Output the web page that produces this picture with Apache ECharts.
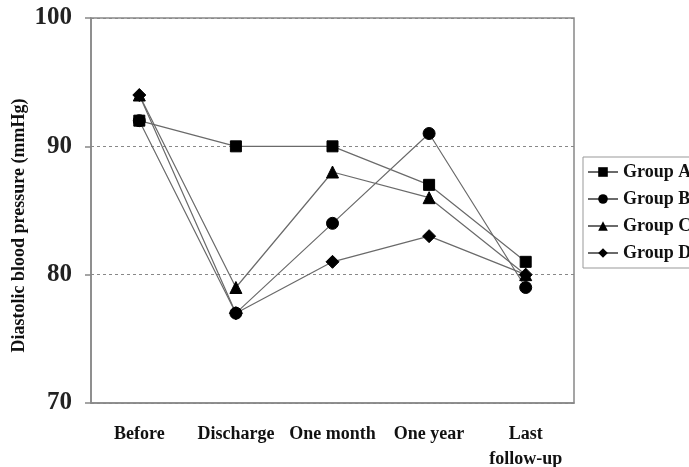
<!DOCTYPE html>
<html>
<head>
<meta charset="utf-8">
<script src="https://cdn.jsdelivr.net/npm/echarts@6/dist/echarts.min.js"></script>
<style>html,body{margin:0;padding:0;background:#fff;}#c{width:689px;height:467px;}</style>
</head>
<body>
<div id="c"></div>
<script>
const categories = ['Before', 'Discharge', 'One month', 'One year', 'Last\nfollow-up'];
const groupA = [92, 90, 90, 87, 81];
const groupB = [92, 77, 84, 91, 79];
const groupC = [94, 79, 88, 86, 80];
const groupD = [94, 77, 81, 83, 80];
const yTicks = [70, 80, 90, 100];

const font = '"Liberation Serif", "Times New Roman", serif';
const chart = echarts.init(document.getElementById('c'));

function mk(name, data, symbol, size) {
  return {
    name: name, type: 'line', data: data,
    symbol: symbol, symbolSize: size,
    lineStyle: { color: '#6a6a6a', width: 1.2 },
    itemStyle: { color: '#000', borderColor: '#000' },
    emphasis: { disabled: true },
    animation: false
  };
}

chart.setOption({
  backgroundColor: '#fff',
  animation: false,
  grid: { left: 91, right: 115, top: 18, bottom: 64, show: true, borderColor: '#888', borderWidth: 1.5, backgroundColor: '#fff', outerBoundsMode: 'none', containLabel: false },
  legend: {
    orient: 'vertical', left: 583, top: 157,
    itemWidth: 30, itemHeight: 12, itemGap: 9,
    padding: [6, 10, 6, 4],
    borderColor: '#999', borderWidth: 1,
    textStyle: { fontFamily: font, fontWeight: 'bold', fontSize: 18, color: '#111' },
    data: ['Group A', 'Group B', 'Group C', 'Group D']
  },
  xAxis: {
    type: 'category', data: categories, boundaryGap: true,
    axisLine: { lineStyle: { color: '#888', width: 1.5 } },
    axisTick: { show: false },
    axisLabel: { fontFamily: font, fontWeight: 'bold', fontSize: 18, color: '#111', margin: 19, lineHeight: 25, interval: 0 }
  },
  yAxis: {
    type: 'value', min: 70, max: 100, interval: 10,
    name: 'Diastolic blood pressure (mmHg)', nameLocation: 'middle', nameGap: 63, nameMoveOverlap: false,
    nameTextStyle: { fontFamily: font, fontWeight: 'bold', fontSize: 18, color: '#111', padding: [0, 30, 0, 0] },
    axisLine: { show: true, lineStyle: { color: '#888', width: 1.5 } },
    axisTick: { show: true, inside: false, length: 6, lineStyle: { color: '#888', width: 1.5 } },
    axisLabel: { fontFamily: font, fontWeight: 'bold', fontSize: 25, color: '#222', margin: 19,
      formatter: function (v) { return yTicks.indexOf(v) >= 0 ? String(v) : ''; } },
    splitLine: { show: true, lineStyle: { color: '#888', type: [3, 3], width: 1 } }
  },
  series: [
    mk('Group A', groupA, 'rect', 11),
    mk('Group B', groupB, 'circle', 12),
    mk('Group C', groupC, 'triangle', 12),
    mk('Group D', groupD, 'diamond', 13)
  ]
});
</script>
</body>
</html>
